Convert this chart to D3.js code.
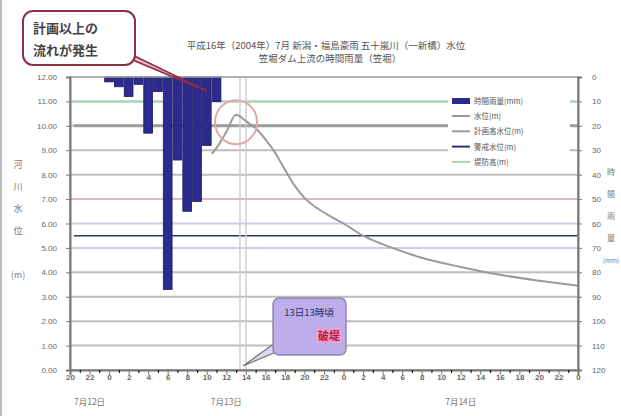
<!DOCTYPE html>
<html>
<head>
<meta charset="utf-8">
<script src="https://cdn.jsdelivr.net/npm/d3@7"></script>
<style>
  body { margin: 0; background: #fff; }
  svg { font-family: "Noto Sans CJK JP", "Noto Sans", sans-serif; }
</style>
</head>
<body>
<div id="chart"></div>
<script>
'use strict';

// hours counted from 7/12 20:00
const dates = ['7月12日', '7月13日', '7月14日'];
const dayStarts = [0, 4, 28];
const dayEnds = [4, 28, 52];

const rainHours = [4, 5, 6, 7, 8, 9, 10, 11, 12, 13, 14, 15];
const rainValues = [2, 4, 8, 3, 23, 6, 87, 34, 55, 51, 28, 10];

const levelHours = [14.5, 15, 16, 17, 18, 19, 20, 21, 22, 23, 24, 26, 28, 30, 33, 36, 40, 44, 48, 52];
const levelValues = [8.85, 9.1, 9.75, 10.45, 10.2, 9.9, 9.45, 8.9, 8.2, 7.55, 7.05, 6.45, 6.0, 5.5, 5.0, 4.6, 4.22, 3.9, 3.66, 3.45];

const leftTicks = [0, 1, 2, 3, 4, 5, 6, 7, 8, 9, 10, 11, 12];
const rightTicks = [0, 10, 20, 30, 40, 50, 60, 70, 80, 90, 100, 110, 120];

const lineNames = ['水位(m)', '計画高水位(m)', '警戒水位(m)', '堤防高(m)'];
const lineLevels = [null, 10.0, 5.5, 11.0];
const lineColors = ['#9a9a9a', '#9c9c9c', '#2c3470', '#a9d6b4'];

const breachHour = 17.4;

const W = 621, H = 416;
const margin = { top: 77, right: 43, bottom: 46, left: 70 };
const plotW = W - margin.left - margin.right;
const plotH = H - margin.top - margin.bottom;

const svg = d3.select('#chart').append('svg').attr('width', W).attr('height', H);

// faint frame of the picture
svg.append('line').attr('x1', 1).attr('x2', 1).attr('y1', 0).attr('y2', H).attr('stroke', '#bbb').attr('stroke-width', 2);

const x = d3.scaleLinear().domain([0, 52]).range([margin.left, margin.left + plotW]);
const yL = d3.scaleLinear().domain([0, 12]).range([margin.top + plotH, margin.top]);
const yR = d3.scaleLinear().domain([0, 120]).range([margin.top, margin.top + plotH]);

// title
const title = svg.append('g').attr('fill', '#555').style('font-size', '9.5px').attr('text-anchor', 'middle');
title.append('text').attr('x', 326).attr('y', 49).text('平成16年（2004年）7月 新潟・福島豪雨 五十嵐川（一新橋）水位');
title.append('text').attr('x', 330).attr('y', 62).text('笠堀ダム上流の時間雨量（笠堀）');

// gridlines
svg.append('g').selectAll('line').data(leftTicks.slice(1, -1)).enter().append('line')
  .attr('x1', margin.left).attr('x2', margin.left + plotW)
  .attr('y1', d => yL(d)).attr('y2', d => yL(d))
  .attr('stroke', d => d === 7 ? '#dcb7c4' : (d === 6 || d === 5 ? '#cfcbe0' : '#bdbdbd'))
  .attr('stroke-width', 2);

// reference levels
svg.append('g').selectAll('line').data(lineLevels.slice(1)).enter().append('line')
  .attr('x1', margin.left + 4).attr('x2', margin.left + plotW)
  .attr('y1', d => yL(d)).attr('y2', d => yL(d))
  .attr('stroke', (d, i) => lineColors[i + 1])
  .attr('stroke-width', (d, i) => i === 0 ? 3 : (i === 1 ? 1.6 : 2));

// breach time marker
svg.append('g').selectAll('line').data([0, 6]).enter().append('line')
  .attr('x1', d => x(breachHour) + d).attr('x2', d => x(breachHour) + d)
  .attr('y1', margin.top).attr('y2', margin.top + plotH)
  .attr('stroke', '#cfcfcf').attr('stroke-width', 1.5);

// rain bars hanging from top
const bw = x(1) - x(0);
svg.append('g').selectAll('rect').data(rainHours).enter().append('rect')
  .attr('x', d => x(d) - bw / 2 + 0.5)
  .attr('y', margin.top)
  .attr('width', bw - 1)
  .attr('height', (d, i) => yR(rainValues[i]) - margin.top)
  .attr('fill', '#2c2a8e')
  .attr('stroke', '#1c1c5c')
  .attr('stroke-width', 0.8);

// water level
const levelLine = d3.line().x(d => x(d[0])).y(d => yL(d[1])).curve(d3.curveMonotoneX);
svg.append('path')
  .datum(levelHours.map((h, i) => [h, levelValues[i]]))
  .attr('d', levelLine)
  .attr('fill', 'none')
  .attr('stroke', lineColors[0])
  .attr('stroke-width', 2);

// circle around the peak
svg.append('ellipse').attr('cx', x(17.0)).attr('cy', yL(10.15)).attr('rx', 21).attr('ry', 22)
  .attr('fill', 'none').attr('stroke', '#e2a9a9').attr('stroke-width', 2);

// frame and axes
svg.append('rect').attr('x', margin.left).attr('y', margin.top).attr('width', plotW).attr('height', plotH)
  .attr('fill', 'none').attr('stroke', '#9a9a9a').attr('stroke-width', 1.5);

const axL = svg.append('g').attr('transform', `translate(${margin.left},0)`)
  .call(d3.axisLeft(yL).tickValues(leftTicks).tickFormat(d3.format('.2f')).tickSize(4));
const axR = svg.append('g').attr('transform', `translate(${margin.left + plotW},0)`)
  .call(d3.axisRight(yR).tickValues(rightTicks).tickSize(4).tickPadding(10));
const axB = svg.append('g').attr('transform', `translate(0,${margin.top + plotH})`)
  .call(d3.axisBottom(x).tickValues(d3.range(0, 53, 2)).tickSize(5).tickFormat(d => (20 + d) % 24));
svg.append('g').attr('transform', `translate(0,${margin.top + plotH})`)
  .call(d3.axisBottom(x).tickValues(d3.range(1, 52, 2)).tickSize(3).tickFormat(''))
  .call(g => g.select('.domain').remove());

[axL, axR, axB].forEach(g => {
  g.select('.domain').attr('stroke', '#777').attr('stroke-width', 2);
  g.selectAll('.tick line').attr('stroke', '#777');
  g.selectAll('text').attr('fill', '#666').style('font-size', '8px');
});
axL.selectAll('text').attr('dx', '-6');
axB.selectAll('text').attr('dy', '0.3em').style('font-weight', 'bold');

// date labels
svg.append('g').selectAll('text').data(dates).enter().append('text')
  .attr('x', (d, i) => x((dayStarts[i] + dayEnds[i]) / 2))
  .attr('y', 405)
  .attr('text-anchor', 'middle')
  .attr('fill', '#777')
  .style('font-size', '8.5px')
  .text(d => d);

// axis titles (vertical, stacked)
const leftTitle = ['河', '川', '水', '位', '', '(m)'];
svg.append('g').selectAll('text').data(leftTitle).enter().append('text')
  .attr('x', 18).attr('y', (d, i) => 168 + i * 22)
  .attr('text-anchor', 'middle').attr('fill', '#777').style('font-size', '9px')
  .text(d => d);
const rightTitle = ['時', '間', '雨', '量', '(mm)'];
svg.append('g').selectAll('text').data(rightTitle).enter().append('text')
  .attr('x', 611).attr('y', (d, i) => 175 + i * 22)
  .attr('text-anchor', 'middle').attr('fill', '#777')
  .style('font-size', (d, i) => i === 4 ? '6.5px' : '8px')
  .text(d => d);

// legend
const legend = svg.append('g').attr('transform', 'translate(452,101)');
legend.append('rect').attr('x', -4).attr('y', -8).attr('width', 122).attr('height', 76).attr('fill', '#fff');
legend.append('rect').attr('x', 0).attr('y', -3).attr('width', 18).attr('height', 6).attr('fill', '#2c2a8e');
legend.append('text').attr('x', 22).attr('y', 3).attr('fill', '#555').style('font-size', '7.5px').text('時間雨量(mm)');
const legRow = legend.selectAll('.legRow').data(lineNames).enter().append('g')
  .attr('class', 'legRow').attr('transform', (d, i) => `translate(0,${15 + i * 15.3})`);
legRow.append('line').attr('x1', 0).attr('x2', 18).attr('stroke', (d, i) => lineColors[i]).attr('stroke-width', 2);
legRow.append('text').attr('x', 22).attr('y', 3).attr('fill', '#555').style('font-size', '7.5px').text(d => d);

// top callout
const c1 = svg.append('g');
c1.append('path')
  .attr('d', `M118,48 L${x(14)},${margin.top + 14} L128,58 Z`)
  .attr('fill', 'rgba(200,60,90,0.35)').attr('stroke', '#8c2f45').attr('stroke-width', 1.5);
c1.append('rect').attr('x', 23).attr('y', 11).attr('width', 112).attr('height', 54).attr('rx', 10)
  .attr('fill', '#fff').attr('stroke', '#8c2f45').attr('stroke-width', 2);
c1.append('text').attr('x', 33).attr('y', 33).attr('fill', '#444').style('font-size', '13px').style('font-weight', 'bold').text('計画以上の');
c1.append('text').attr('x', 33).attr('y', 55).attr('fill', '#444').style('font-size', '13px').style('font-weight', 'bold').text('流れが発生');

// bottom callout
const c2 = svg.append('g');
c2.append('path')
  .attr('d', `M${x(breachHour) + 3},${margin.top + plotH - 4} L282,338 L290,346 Z`)
  .attr('fill', '#dcd6f2').attr('stroke', '#6b7a66').attr('stroke-width', 1.2);
c2.append('rect').attr('x', 273).attr('y', 298).attr('width', 73).attr('height', 57).attr('rx', 6)
  .attr('fill', '#bcaee9').attr('stroke', '#8f86b3').attr('stroke-width', 1.5);
c2.append('text').attr('x', 309).attr('y', 316).attr('text-anchor', 'middle').attr('fill', '#2a2a6a')
  .style('font-size', '9.5px').text('13日13時頃');
c2.append('rect').attr('x', 316).attr('y', 328).attr('width', 26).attr('height', 15).attr('fill', '#e6a3cf');
c2.append('text').attr('x', 329).attr('y', 340).attr('text-anchor', 'middle').attr('fill', '#c0143c')
  .style('font-size', '11px').style('font-weight', 'bold').text('破堤');
</script>
</body>
</html>
